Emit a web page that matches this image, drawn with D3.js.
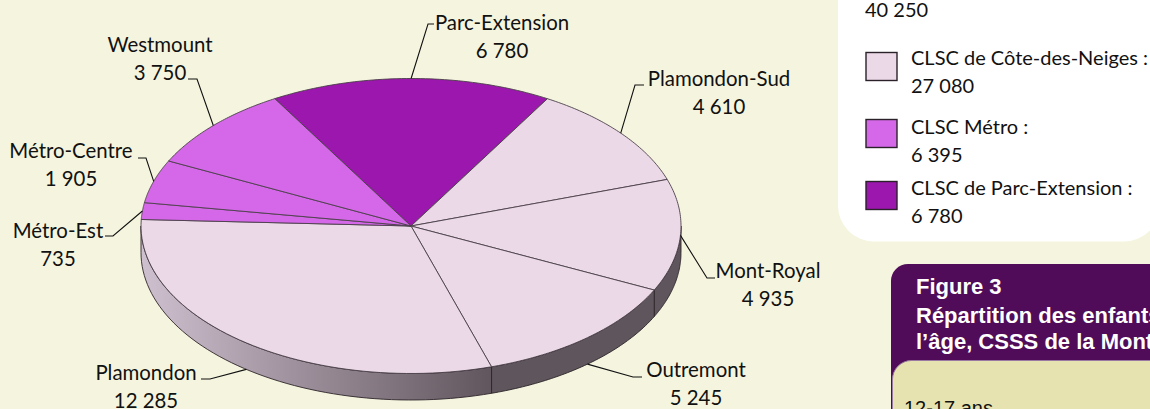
<!DOCTYPE html>
<html><head><meta charset="utf-8">
<script src="https://cdn.jsdelivr.net/npm/d3@7"></script>
<style>html,body{margin:0;padding:0;overflow:hidden;background:#f5f5df}svg{display:block}</style>
</head><body><svg id="c" width="1150" height="409"></svg>
<script>
const categories=["Parc-Extension","Plamondon-Sud","Mont-Royal","Outremont","Plamondon","Métro-Est","Métro-Centre","Westmount"];
const values=[6780,4610,4935,5245,12285,735,1905,3750];
const sliceColors=["#9c17ad","#ecd9e8","#ecd9e8","#ecd9e8","#ecd9e8","#d568e8","#d568e8","#d568e8"];
const valueLabels=["6 780","4 610","4 935","5 245","12 285","735","1 905","3 750"];
const labelX=[502,719,768,696,146,58,71,160];
const labelY=[30,86,278,377,380,238,158,52];
const elbowX=[428,635,707,633,210,113,146,197];
const elbowY=[24,85,278,377,379,236,158,79];
const tailX=[434,644,715,642,201,105,138,188];
const onWall=[0,0,0,1,1,0,0,0];
const legendLabels=["CLSC de Côte-des-Neiges :","CLSC Métro :","CLSC de Parc-Extension :"];
const legendValues=["27 080","6 395","6 780"];
const legendColors=["#ecd9e8","#d568e8","#9c17ad"];
const legendBoxY=[52,119,181];
const legendTextY=[65,134,195];

const BODY="Lato, Carlito, sans-serif", FS=20.4, LFS=20, LH=27.5, INK="#111";
const svg=d3.select("#c");
const cx=411,cy=226,rx=270,ry=147.5,depth=26.5;
const px=d3.scaleLinear().domain([-1,1]).range([cx-rx,cx+rx]);
const py=d3.scaleLinear().domain([-1,1]).range([cy-ry,cy+ry]);
const start=-30.3*Math.PI/180;
const arcs=d3.pie().sort(null).startAngle(start).endAngle(start+2*Math.PI)(values);
const X=a=>px(Math.sin(a)),Y=a=>py(-Math.cos(a));
const samples=(a,b)=>d3.range(0,61).map(i=>a+(b-a)*i/60);
const line=d3.line().x(d=>d[0]).y(d=>d[1]);

const defs=svg.append("defs");
const g=defs.append("linearGradient").attr("id","wall").attr("gradientUnits","userSpaceOnUse")
 .attr("x1",px(-1)).attr("x2",490).attr("y1",0).attr("y2",0);
g.append("stop").attr("offset",0).attr("stop-color","#cfc0cf");
g.append("stop").attr("offset",1).attr("stop-color","#61565e");

// panels
svg.append("rect").attr("x",838).attr("y",-60).attr("width",322).attr("height",301.5).attr("rx",36).attr("fill","#fff");
svg.append("text").attr("x",865).attr("y",17).attr("font-family",BODY).attr("font-size",LFS).attr("fill",INK).text("40 250");
legendLabels.forEach((t,i)=>{
 svg.append("rect").attr("x",866).attr("y",legendBoxY[i]+.5).attr("width",31).attr("height",28).attr("fill",legendColors[i]).attr("stroke","#2a2228").attr("stroke-width",1.4);
 svg.append("text").attr("x",911).attr("y",legendTextY[i]).attr("font-family",BODY).attr("font-size",LFS).attr("fill",INK).text(t);
 svg.append("text").attr("x",911).attr("y",legendTextY[i]+LH).attr("font-family",BODY).attr("font-size",LFS).attr("fill",INK).text(legendValues[i]);
});
svg.append("rect").attr("x",891).attr("y",264).attr("width",300).attr("height",220).attr("rx",17).attr("fill","#500c58");
svg.append("rect").attr("x",892.5).attr("y",360.5).attr("width",300).attr("height",120).attr("rx",19).attr("fill","#e6e3b0").attr("stroke","#9a7aa0").attr("stroke-width",1);
[["Figure 3",294],["Répartition des enfants selon",323],["l’âge, CSSS de la Montagne",349]].forEach(d=>
 svg.append("text").attr("x",916).attr("y",d[1]).attr("font-family","Liberation Sans, Arial, sans-serif").attr("font-weight","bold").attr("font-size",22).attr("fill","#fff").text(d[0]));
svg.append("text").attr("x",904).attr("y",415).attr("font-family","Liberation Sans, Arial, sans-serif").attr("font-size",20).attr("fill","#111").text("12-17 ans");

// pie wall (front half only)
const lim=[Math.PI/2,3*Math.PI/2];
arcs.forEach(d=>{
 const a=Math.max(d.startAngle,lim[0]),b=Math.min(d.endAngle,lim[1]);
 if(a>=b)return;
 const top=samples(a,b).map(t=>[X(t),Y(t)]);
 const bot=samples(b,a).map(t=>[X(t),Y(t)+depth]);
 svg.append("path").attr("d",line(top.concat(bot))+"Z").attr("fill",d.startAngle>=Math.PI/2&&d.endAngle>Math.PI?"url(#wall)":"#5f555d").attr("stroke","#2c2529").attr("stroke-width",.9);
});
// top
arcs.forEach((d,i)=>{
 const pts=samples(d.startAngle,d.endAngle).map(t=>[X(t),Y(t)]);
 svg.append("path").attr("d",line([[cx,cy]].concat(pts))+"Z").attr("fill",sliceColors[i]).attr("stroke","#4a4048").attr("stroke-width",.9).attr("stroke-linejoin","round");
});
// labels
arcs.forEach((d,i)=>{
 const m=(d.startAngle+d.endAngle)/2;
 const p0=[X(m),Y(m)+(onWall[i]?depth:0)];
 svg.append("path").attr("d",line([p0,[elbowX[i],elbowY[i]],[tailX[i],elbowY[i]]])).attr("fill","none").attr("stroke","#111").attr("stroke-width",1.1);
 const t=svg.append("text").attr("text-anchor","middle").attr("font-family",BODY).attr("font-size",FS).attr("fill",INK);
 t.append("tspan").attr("x",labelX[i]).attr("y",labelY[i]).text(categories[i]);
 t.append("tspan").attr("x",labelX[i]).attr("y",labelY[i]+LH).text(valueLabels[i]);
});
</script></body></html>
